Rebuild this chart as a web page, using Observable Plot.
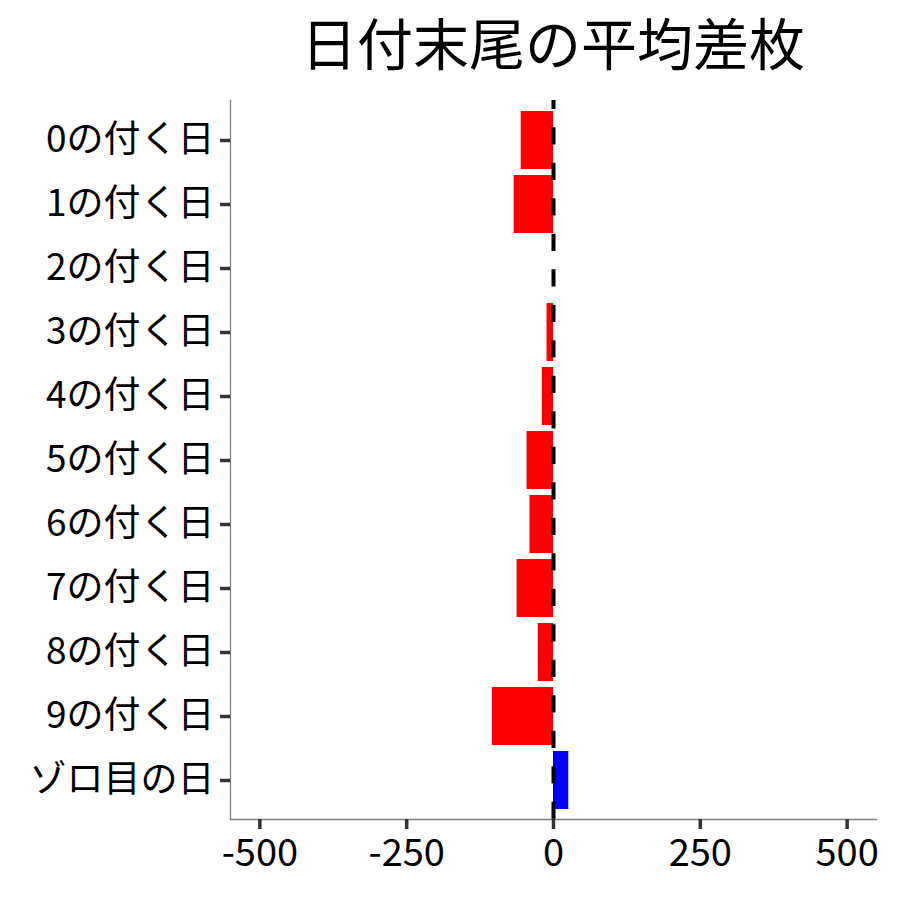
<!DOCTYPE html>
<html>
<head>
<meta charset="utf-8">
<script src="https://cdn.jsdelivr.net/npm/d3@7"></script>
<script src="https://cdn.jsdelivr.net/npm/@observablehq/plot@0.6"></script>
<style>
  body { margin: 0; background: #fff; font-family: "Noto Sans CJK JP", "Noto Sans", sans-serif; }
  #wrap { position: relative; width: 900px; height: 900px; }
  #title { position: absolute; left: 230px; width: 646px; top: 13px; text-align: center;
           font-size: 56px; line-height: 56px; color: #000; font-family: "Noto Sans CJK JP", sans-serif; }
</style>
</head>
<body>
<div id="wrap">
  <div id="title">日付末尾の平均差枚</div>
  <div id="chart"></div>
</div>
<script>
const categories = ["0の付く日","1の付く日","2の付く日","3の付く日","4の付く日","5の付く日","6の付く日","7の付く日","8の付く日","9の付く日","ゾロ目の日"];
const values = [-55, -67, 0, -11, -19, -45, -40, -62, -26, -104, 26];
const xTicks = [-500, -250, 0, 250, 500];

const data = categories.map((c, i) => ({day: c, diff: values[i]}));

const chart = Plot.plot({
  width: 900,
  height: 900,
  marginTop: 100,
  marginBottom: 81,
  marginLeft: 230,
  marginRight: 24,
  style: {fontFamily: "'Noto Sans CJK JP', sans-serif", background: "#fff", color: "#000"},
  x: {domain: [-550, 550]},
  y: {domain: categories, paddingInner: 0.1, paddingOuter: 0.15, align: 0.5},
  marks: [
    Plot.barX(data, {x: "diff", y: "day", fill: d => d.diff >= 0 ? "#0000FF" : "#FF0000"}),
    Plot.ruleX([0], {stroke: "#000", strokeWidth: 4, strokeDasharray: "17.2,18.3", strokeDashoffset: 8.3}),
    Plot.frame({anchor: "left", stroke: "#808080", strokeWidth: 1.3}),
    Plot.frame({anchor: "bottom", stroke: "#808080", strokeWidth: 1.3}),
    Plot.axisX({ticks: xTicks, tickSize: 10, tickPadding: 10, stroke: "#333", strokeWidth: 3.5,
                fontSize: 38, fill: "#000", label: null, tickFormat: d => String(d)}),
    Plot.axisY({tickSize: 10, tickPadding: 6, stroke: "#333", strokeWidth: 3.5,
                fontSize: 37, fill: "#000", label: null})
  ]
});
document.getElementById("chart").appendChild(chart);
</script>
</body>
</html>
